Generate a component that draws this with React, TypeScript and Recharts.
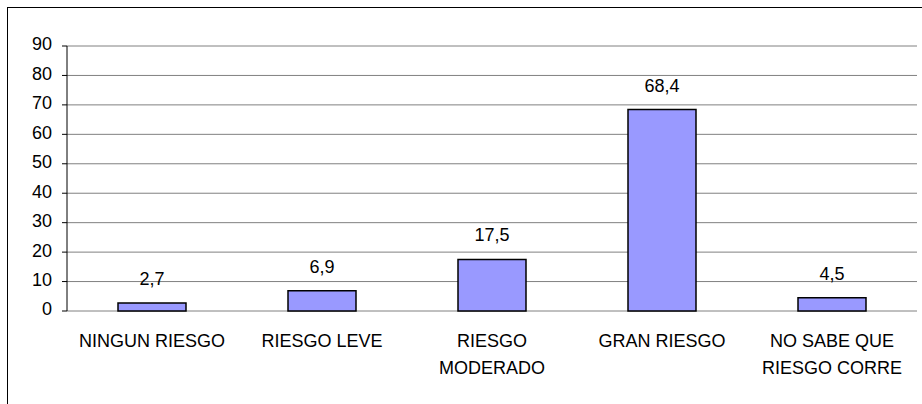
import React from 'react'
import { BarChart, Bar, XAxis, YAxis, CartesianGrid, LabelList } from 'recharts'

const categories = ['NINGUN RIESGO', 'RIESGO LEVE', 'RIESGO\nMODERADO', 'GRAN RIESGO', 'NO SABE QUE\nRIESGO CORRE']
const values = [2.7, 6.9, 17.5, 68.4, 4.5]
const yTicks = [0, 10, 20, 30, 40, 50, 60, 70, 80, 90]
const boundaryTicks = [0, 1, 2, 3, 4, 5]

const FONT = 'Arial, "Liberation Sans", sans-serif'

const data = categories.map((name, i) => ({ name, value: values[i] }))

// category labels, split on \n into two lines
const CategoryTick = (props: any) => {
    const { x, y, payload } = props
    const lines = String(payload.value).split('\n')
    return (
        <text x={x} y={y} textAnchor="middle" fontFamily={FONT} fontSize={18} fill="#000">
            {lines.map((l, i) => (
                <tspan key={i} x={x} dy={i === 0 ? 24 : 27}>{l}</tspan>
            ))}
        </text>
    )
}

export default function App() {
    return (
        <div style={{ position: 'absolute', left: 0, top: 0, width: 922, height: 404, background: '#fff' }}>
            <div style={{ position: 'absolute', left: 7, top: 7, width: 930, height: 420, border: '1px solid #000', boxSizing: 'border-box' }} />
            <BarChart
                width={922}
                height={404}
                data={data}
                margin={{ top: 46, right: 5, bottom: 0, left: 0 }}
                barCategoryGap="30%"
                style={{ position: 'absolute', left: 0, top: 0 }}
            >
                <CartesianGrid vertical={false} stroke="#808080" strokeWidth={1} />
                <XAxis
                    xAxisId="edges"
                    type="number"
                    domain={[0, 5]}
                    ticks={boundaryTicks}
                    height={0}
                    tick={false}
                    tickSize={6}
                    tickLine={{ stroke: '#000' }}
                    axisLine={{ stroke: '#000', strokeWidth: 1.5 }}
                />
                <XAxis
                    dataKey="name"
                    height={93}
                    axisLine={false}
                    tickLine={false}
                    interval={0}
                    tickMargin={6}
                    tick={<CategoryTick />}
                />
                <YAxis
                    width={67}
                    domain={[0, 90]}
                    ticks={yTicks}
                    interval={0}
                    tickSize={5}
                    tickMargin={10}
                    axisLine={{ stroke: '#000' }}
                    tickLine={{ stroke: '#000' }}
                    tick={{ fontFamily: FONT, fontSize: 18, fill: '#000', dy: -2 }}
                />
                <YAxis
                    yAxisId="right"
                    orientation="right"
                    width={0}
                    domain={[0, 90]}
                    tick={false}
                    tickLine={false}
                    axisLine={{ stroke: '#a0a0a0' }}
                />
                <Bar dataKey="value" fill="#9999FF" stroke="#000" strokeWidth={1.5} isAnimationActive={false}>
                    <LabelList
                        dataKey="value"
                        position="top"
                        offset={18}
                        formatter={(v: any) => String(v).replace('.', ',')}
                        style={{ fontFamily: FONT, fontSize: 18, fill: '#000' }}
                    />
                </Bar>
            </BarChart>
        </div>
    )
}
